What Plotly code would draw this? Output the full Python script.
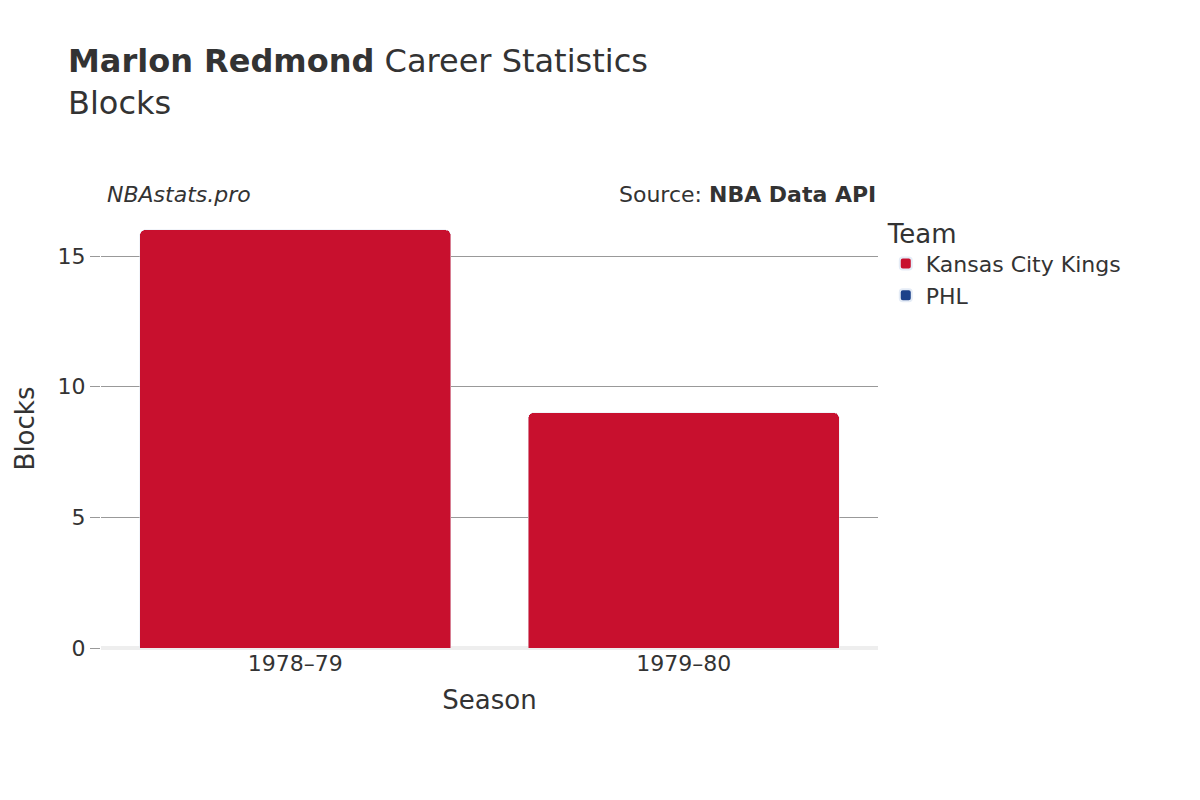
import plotly.graph_objects as go

seasons = ["1978–79", "1979–80"]
phl_blocks = [0, 0]
kck_blocks = [16, 9]

fig = go.Figure()
fig.add_trace(go.Bar(x=seasons, y=phl_blocks, name="PHL", marker_color="#1D428A"))
fig.add_trace(go.Bar(x=seasons, y=kck_blocks, name="Kansas City Kings", marker_color="#C8102E"))

fig.update_layout(
    width=1200, height=800,
    barmode="stack", barcornerradius=5, bargap=0.2,
    font=dict(family="DejaVu Sans", color="#333", size=20),
    plot_bgcolor="white", paper_bgcolor="white",
    margin=dict(l=93, r=330, t=201, b=160),
    title=dict(text="<b>Marlon Redmond</b> Career Statistics<br>Blocks",
               x=0.05, xanchor="left", y=0.92, yanchor="top", font=dict(size=32, color="#333")),
    legend=dict(title=dict(text="Team", font=dict(size=26)), x=1.01, y=1, yanchor="top",
                font=dict(size=22), itemsizing="constant"),
    xaxis=dict(title=dict(text="Season", font=dict(size=26)), tickfont=dict(size=22)),
    yaxis=dict(title=dict(text="Blocks", font=dict(size=26)), range=[0, 16.8],
               tickvals=[0, 5, 10, 15], tickfont=dict(size=22),
               gridcolor="#999", zeroline=True, zerolinecolor="#eee", zerolinewidth=4,
               ticks="outside", tickcolor="#999", ticklen=10),
)
fig.add_annotation(text="<i>NBAstats.pro</i>", x=0.0, xanchor="left", xshift=4, y=1.0, yanchor="bottom",
                   xref="paper", yref="paper", showarrow=False, font=dict(size=22))
fig.add_annotation(text="Source: <b>NBA Data API</b>", x=1.0, xanchor="right", y=1.0, yanchor="bottom",
                   xref="paper", yref="paper", showarrow=False, font=dict(size=22))

fig.write_html("out.html")
